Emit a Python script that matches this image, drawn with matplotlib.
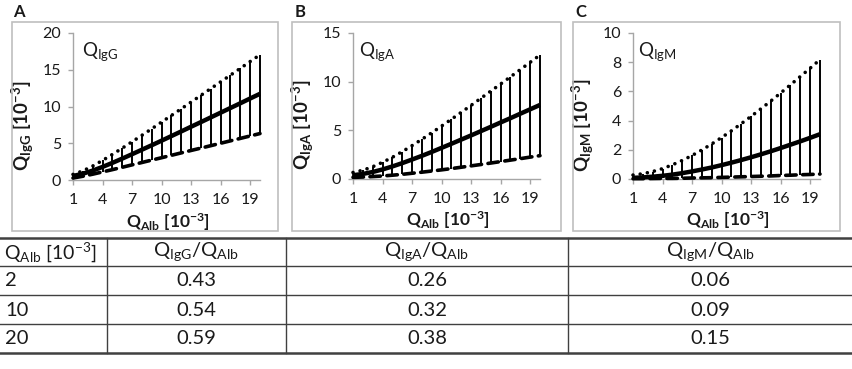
import matplotlib
matplotlib.use("Agg")
import matplotlib.pyplot as plt
from matplotlib.patches import Rectangle
from matplotlib.lines import Line2D

plt.rcParams['font.family'] = ['Lato', 'DejaVu Sans']
plt.rcParams['mathtext.fontset'] = 'custom'
plt.rcParams['mathtext.rm'] = 'Lato'
plt.rcParams['mathtext.it'] = 'Lato:italic'
plt.rcParams['mathtext.bf'] = 'Lato:bold'

# ---------------- data ----------------
q_alb = [1, 2, 3, 4, 5, 6, 7, 8, 9, 10, 11, 12, 13, 14, 15, 16, 17, 18, 19, 20]

igg_upper = [0.76, 1.24, 1.90, 2.66, 3.48, 4.33, 5.20, 6.08, 6.97, 7.88,
             8.78, 9.69, 10.60, 11.52, 12.44, 13.35, 14.27, 15.19, 16.12, 17.04]
igg_mean = [0.55, 0.85, 1.28, 1.78, 2.33, 2.91, 3.51, 4.12, 4.73, 5.35,
            5.98, 6.61, 7.25, 7.88, 8.52, 9.16, 9.80, 10.44, 11.09, 11.73]
igg_lower = [0.27, 0.51, 0.79, 1.10, 1.41, 1.73, 2.06, 2.38, 2.71, 3.03,
             3.36, 3.69, 4.02, 4.34, 4.67, 5.00, 5.33, 5.66, 5.99, 6.32]

iga_upper = [0.67, 0.90, 1.26, 1.71, 2.23, 2.81, 3.43, 4.08, 4.75, 5.44,
             6.14, 6.85, 7.57, 8.30, 9.03, 9.76, 10.50, 11.24, 11.99, 12.74]
iga_mean = [0.39, 0.52, 0.72, 0.98, 1.29, 1.63, 2.00, 2.38, 2.78, 3.20,
            3.62, 4.05, 4.48, 4.92, 5.36, 5.81, 6.25, 6.71, 7.16, 7.61]
iga_lower = [0.17, 0.20, 0.25, 0.31, 0.39, 0.48, 0.59, 0.70, 0.82, 0.94,
             1.07, 1.21, 1.35, 1.49, 1.64, 1.79, 1.94, 2.09, 2.25, 2.40]

igm_upper = [0.27, 0.36, 0.51, 0.71, 0.97, 1.27, 1.61, 1.99, 2.40, 2.84,
             3.30, 3.79, 4.29, 4.81, 5.34, 5.89, 6.45, 7.02, 7.59, 8.18]
igm_mean = [0.08, 0.11, 0.16, 0.22, 0.30, 0.40, 0.52, 0.65, 0.79, 0.95,
            1.12, 1.30, 1.49, 1.69, 1.90, 2.12, 2.35, 2.58, 2.82, 3.07]
igm_lower = [0.02, 0.02, 0.03, 0.04, 0.04, 0.05, 0.07, 0.08, 0.09, 0.11,
             0.13, 0.15, 0.17, 0.19, 0.21, 0.24, 0.26, 0.29, 0.31, 0.34]

x_ticks = [1, 4, 7, 10, 13, 16, 19]
y_ticks_a = [0, 5, 10, 15, 20]
y_ticks_b = [0, 5, 10, 15]
y_ticks_c = [0, 2, 4, 6, 8, 10]

panel_letters = ['A', 'B', 'C']
panel_names = ['IgG', 'IgA', 'IgM']

table_qalb = ['2', '10', '20']
ratio_igg = ['0.43', '0.54', '0.59']
ratio_iga = ['0.26', '0.32', '0.38']
ratio_igm = ['0.06', '0.09', '0.15']

# ---------------- layout helpers ----------------
W, H = 852, 369
fig = plt.figure(figsize=(W / 100, H / 100), dpi=100)


def fx(px):
    return px / W


def fy(py):
    return 1 - py / H


GRAY = '#a6a6a6'
TXT = '#1a1a1a'

panels = [
    dict(box=(12, 22, 278, 231), ax=(73, 33, 260, 180), lbl=(13, 12),
         upper=igg_upper, mean=igg_mean, lower=igg_lower, yt=y_ticks_a, ymax=20, tx=0.05),
    dict(box=(292, 22, 561, 231), ax=(353, 33, 540, 179), lbl=(295, 12),
         upper=iga_upper, mean=iga_mean, lower=iga_lower, yt=y_ticks_b, ymax=15, tx=0.03),
    dict(box=(573, 22, 840, 231), ax=(633, 33, 820, 179), lbl=(575, 12),
         upper=igm_upper, mean=igm_mean, lower=igm_lower, yt=y_ticks_c, ymax=10, tx=0.027),
]

for i, p in enumerate(panels):
    bx0, by0, bx1, by1 = p['box']
    fig.patches.append(Rectangle((fx(bx0), fy(by1)), fx(bx1) - fx(bx0), fy(by0) - fy(by1),
                                 transform=fig.transFigure, fill=False,
                                 edgecolor='#bfbfbf', linewidth=1.2))
    fig.text(fx(p['lbl'][0]), fy(p['lbl'][1]), panel_letters[i], fontsize=12,
             fontweight='bold', ha='left', va='center', color=TXT)

    ax0, ay0, ax1, ay1 = p['ax']
    ax = fig.add_axes([fx(ax0), fy(ay1), fx(ax1) - fx(ax0), fy(ay0) - fy(ay1)])
    ax.set_facecolor('none')
    ax.vlines(q_alb, p['lower'], p['upper'], color='black', linewidth=1.4, clip_on=False, zorder=2)
    ax.plot(q_alb, p['upper'], color='black', linewidth=2.6, linestyle=(0, (0.01, 2.0)),
            dash_capstyle='round', clip_on=False, zorder=3)
    ax.plot(q_alb, p['mean'], color='black', linewidth=3.2, solid_capstyle='butt',
            clip_on=False, zorder=3)
    ax.plot(q_alb, p['lower'], color='black', linewidth=2.6, linestyle=(0, (2.9, 1.8)),
            dash_capstyle='round', clip_on=False, zorder=3)

    ax.set_xlim(1, 20)
    ax.set_ylim(0, p['ymax'])
    ax.set_xticks(x_ticks)
    ax.set_yticks(p['yt'])
    for s in ['top', 'right']:
        ax.spines[s].set_visible(False)
    for s in ['left', 'bottom']:
        ax.spines[s].set_color(GRAY)
        ax.spines[s].set_linewidth(1.0)
    ax.tick_params(axis='both', colors=GRAY, labelcolor=TXT, length=3.5, width=1.0,
                   labelsize=11.5, direction='out')
    ax.tick_params(axis='x', pad=6)
    ax.tick_params(axis='y', pad=5)

    name = panel_names[i]
    ax.set_ylabel(r'$\mathbf{Q}_{\mathbf{' + name + r'}}\ \mathbf{[10}^{\mathbf{-3}}\mathbf{]}$',
                  fontsize=13.5, color=TXT)
    ax.yaxis.set_label_coords(-0.2, 0.37)
    ax.set_xlabel(r'$\mathbf{Q}_{\mathbf{Alb}}\ \mathbf{[10}^{\mathbf{-3}}\mathbf{]}$',
                  fontsize=12.5, color=TXT)
    ax.xaxis.label.set_va('center')
    ax.xaxis.set_label_coords(0.51, -0.285)
    ax.text(p['tx'], 0.875, r'Q$_{\mathregular{' + name + r'}}$', transform=ax.transAxes,
            fontsize=13.5, ha='left', va='center', color=TXT)

# ---------------- table ----------------
LINE = '#404040'
row_lines = [238, 266, 295, 324, 353]
col_lines = [107, 286, 568]
for j, yy in enumerate(row_lines):
    lw = 1.8 if j in (0, len(row_lines) - 1) else 1.0
    fig.add_artist(Line2D([0, 1], [fy(yy), fy(yy)], transform=fig.transFigure,
                          color=LINE, linewidth=lw))
for xx in col_lines:
    fig.add_artist(Line2D([fx(xx), fx(xx)], [fy(row_lines[0]), fy(row_lines[-1])],
                          transform=fig.transFigure, color=LINE, linewidth=1.0))

col_centers = [196, 427, 710]
header_y = 252
row_ys = [281, 310, 339]
TFS = 14.5
fig.text(fx(4), fy(header_y), r'Q$_{\mathregular{Alb}}$ [10$^{\mathregular{-3}}$]',
         fontsize=14, ha='left', va='center', color=TXT)
headers = [r'Q$_{\mathregular{IgG}}$/Q$_{\mathregular{Alb}}$',
           r'Q$_{\mathregular{IgA}}$/Q$_{\mathregular{Alb}}$',
           r'Q$_{\mathregular{IgM}}$/Q$_{\mathregular{Alb}}$']
for cx, h in zip(col_centers, headers):
    fig.text(fx(cx), fy(header_y), h, fontsize=TFS, ha='center', va='center', color=TXT)

columns = [ratio_igg, ratio_iga, ratio_igm]
for r, yy in enumerate(row_ys):
    fig.text(fx(5), fy(yy), table_qalb[r], fontsize=TFS, ha='left', va='center', color=TXT)
    for cx, col in zip(col_centers, columns):
        fig.text(fx(cx), fy(yy), col[r], fontsize=TFS, ha='center', va='center', color=TXT)

fig.savefig('out.png', dpi=100)
